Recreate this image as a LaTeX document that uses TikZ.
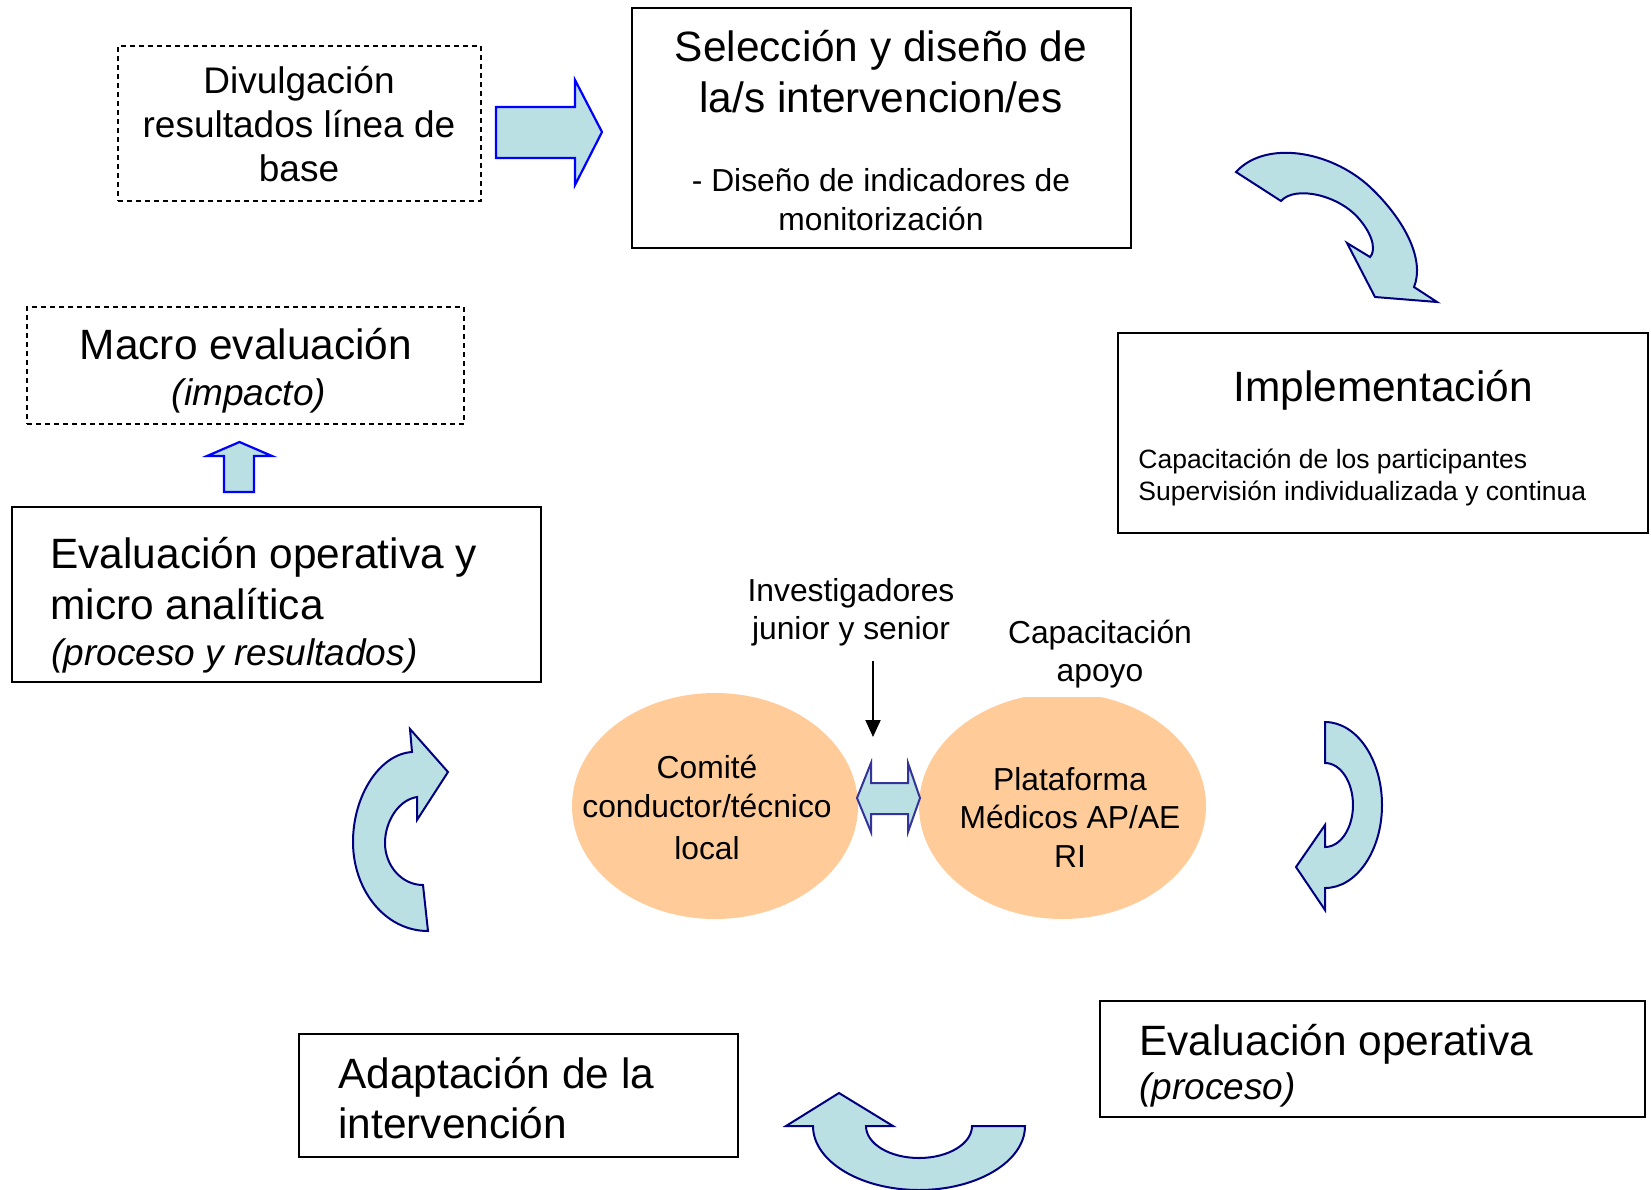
\documentclass[tikz,border=0pt]{standalone}
\usepackage{fontspec}
\setmainfont{Liberation Sans}
\usetikzlibrary{fit,arrows.meta,shapes.geometric}
\definecolor{afill}{HTML}{BBE0E3}
\definecolor{navyline}{HTML}{000080}
\definecolor{purpline}{HTML}{333399}
\definecolor{peach}{HTML}{FFCC99}
\newcommand\szbig{\fontsize{21.2}{25}\selectfont}
\newcommand\szmed{\fontsize{18.5}{22}\selectfont}
\newcommand\szsub{\fontsize{15.9}{19}\selectfont}
\newcommand\szsmall{\fontsize{13.25}{16}\selectfont}
\tikzset{
  boxsolid/.style={draw=black, line width=1pt, inner sep=0pt},
  boxdash/.style={draw=black, line width=0.9pt, dash pattern=on 2.5pt off 2pt, inner sep=0pt},
  txt/.style={inner sep=0pt, anchor=base},
  txtl/.style={inner sep=0pt, anchor=base west},
  carrow/.style={fill=afill, draw=navyline, line width=1pt, line join=miter},
  sarrow/.style={fill=afill, draw=blue, line width=1.1pt, line join=miter},
  darrow/.style={fill=afill, draw=purpline, line width=1pt, line join=miter},
  ell/.style={ellipse, fill=peach, inner sep=0pt}
}
\begin{document}
\begin{tikzpicture}[x=0.5pt,y=-0.5pt]
\useasboundingbox (0,0) rectangle (1651,1190);

% boxes
\node[boxdash, fit={(118,46) (481,201)}] (divbox) {};
\node[boxsolid, fit={(632,8) (1131,248)}] (selbox) {};
\node[boxsolid, fit={(1118,333) (1648,533)}] (impbox) {};
\node[boxdash, fit={(27,307) (464,424)}] (macbox) {};
\node[boxsolid, fit={(12,507) (541,682)}] (evmbox) {};
\node[boxsolid, fit={(299,1034) (738,1157)}] (adabox) {};
\node[boxsolid, fit={(1100,1001) (1645,1117)}] (evobox) {};

% box texts
\node[txt] (div1) at (299,93) {\szmed Divulgación};
\node[txt] (div2) at (299,137) {\szmed resultados línea de};
\node[txt] (div3) at (299,181) {\szmed base};

\node[txt] (sel1) at (881,61) {\szbig Selección y diseño de};
\node[txt] (sel2) at (881,112) {\szbig la/s intervencion/es};
\node[txt] (sel3) at (881,191) {\szsub - Diseño de indicadores de};
\node[txt] (sel4) at (881,230) {\szsub monitorización};

\node[txt] (mac1) at (246,359) {\szbig Macro evaluación};
\node[txt] (mac2) at (249,405) {\szmed\itshape (impacto)};

\node[txt] (imp1) at (1383,401) {\szbig Implementación};
\node[txtl] (imp2) at (1138,468) {\szsmall Capacitación de los participantes};
\node[txtl] (imp3) at (1138,500) {\szsmall Supervisión individualizada y continua};

\node[txtl] (evm1) at (50,568) {\szbig Evaluación operativa y};
\node[txtl] (evm2) at (50,619) {\szbig micro analítica};
\node[txtl] (evm3) at (51,665) {\szmed\itshape (proceso y resultados)};

\node[txtl] (ada1) at (338,1088) {\szbig Adaptación de la};
\node[txtl] (ada2) at (338,1138) {\szbig intervención};

\node[txtl] (evo1) at (1139,1055) {\szbig Evaluación operativa};
\node[txtl] (evo2) at (1139,1099) {\szmed\itshape (proceso)};

% ellipses
\node[ell, minimum width=143pt, minimum height=113pt] (comite) at (715,806) {};
\begin{scope}
  \clip (0,697) rectangle (1651,1190);
  \node[ell, minimum width=143.5pt, minimum height=113pt] (plat) at (1062.5,806) {};
\end{scope}
\node[txt] (com1) at (707,778) {\szsub Comité};
\node[txt] (com2) at (707,817) {\szsub conductor/técnico};
\node[txt] (com3) at (707,859) {\szsub local};
\node[txt] (pla1) at (1070,790) {\szsub Plataforma};
\node[txt] (pla2) at (1070,828) {\szsub Médicos AP/AE};
\node[txt] (pla3) at (1070,867) {\szsub RI};

\node[txt] (inv1) at (851,601) {\szsub Investigadores};
\node[txt] (inv2) at (851,639) {\szsub junior y senior};
\node[txt] (cap1) at (1100,643) {\szsub Capacitación};
\node[txt] (cap2) at (1100,681) {\szsub apoyo};

% black arrow
\coordinate (invtop) at (873,661);
\coordinate (invend) at (873,737);
\draw[line width=1pt, -{Triangle[width=7.5pt,length=8.5pt]}] (invtop) -- (invend);

% double arrow between ellipses
\draw[darrow] (857,798) -- (871,763) -- (871,783) -- (908,783) -- (908,763) -- (920,798)
  -- (908,832) -- (908,814) -- (871,814) -- (871,832) -- cycle;

% straight block arrows
\draw[sarrow] (496,107) -- (575,107) -- (575,80) -- (602,132) -- (575,185) -- (575,158) -- (496,158) -- cycle;
\draw[sarrow] (224,492) -- (224,456) -- (207,456) -- (239.5,442) -- (272,456) -- (254,456) -- (254,492) -- cycle;

% curved arrow top right
\draw[carrow] (1236,172) -- (1281,201)
  .. controls (1295,185) and (1340,195) .. (1360,220)
  .. controls (1375,238) and (1375,252) .. (1370,257)
  -- (1347,243) -- (1375,297) -- (1437,302) -- (1414,287)
  .. controls (1425,260) and (1405,220) .. (1370,187)
  .. controls (1330,150) and (1265,140) .. (1236,172)
  -- cycle;

% curved arrow left
\draw[carrow] (428,931)
  .. controls (385,931) and (353,890) .. (353,842)
  .. controls (353,795) and (380,754) .. (412,752)
  -- (410,729) -- (448,772) -- (417,820) -- (417,797)
  .. controls (398,800) and (385,822) .. (385,843)
  .. controls (385,866) and (402,885) .. (423,885)
  -- cycle;

% curved arrow right
\draw[carrow] (1325,722)
  .. controls (1356.5,722) and (1382,759.2) .. (1382,805)
  .. controls (1382,850.8) and (1356.5,888) .. (1325,888)
  -- (1325,910) -- (1296,867) -- (1325,825) -- (1325,847)
  .. controls (1340.5,847) and (1353,828.2) .. (1353,805)
  .. controls (1353,781.8) and (1340.5,763) .. (1325,763)
  -- cycle;

% curved arrow bottom
\draw[carrow] (972,1126) -- (1025,1126)
  .. controls (1025,1161.3) and (977.5,1190) .. (919,1190)
  .. controls (860.5,1190) and (813,1161.3) .. (813,1126)
  -- (786,1126) -- (839,1093) -- (893,1126) -- (866,1126)
  .. controls (866,1143.7) and (889.7,1158) .. (919,1158)
  .. controls (948.3,1158) and (972,1143.7) .. (972,1126)
  -- cycle;
\end{tikzpicture}
\end{document}
